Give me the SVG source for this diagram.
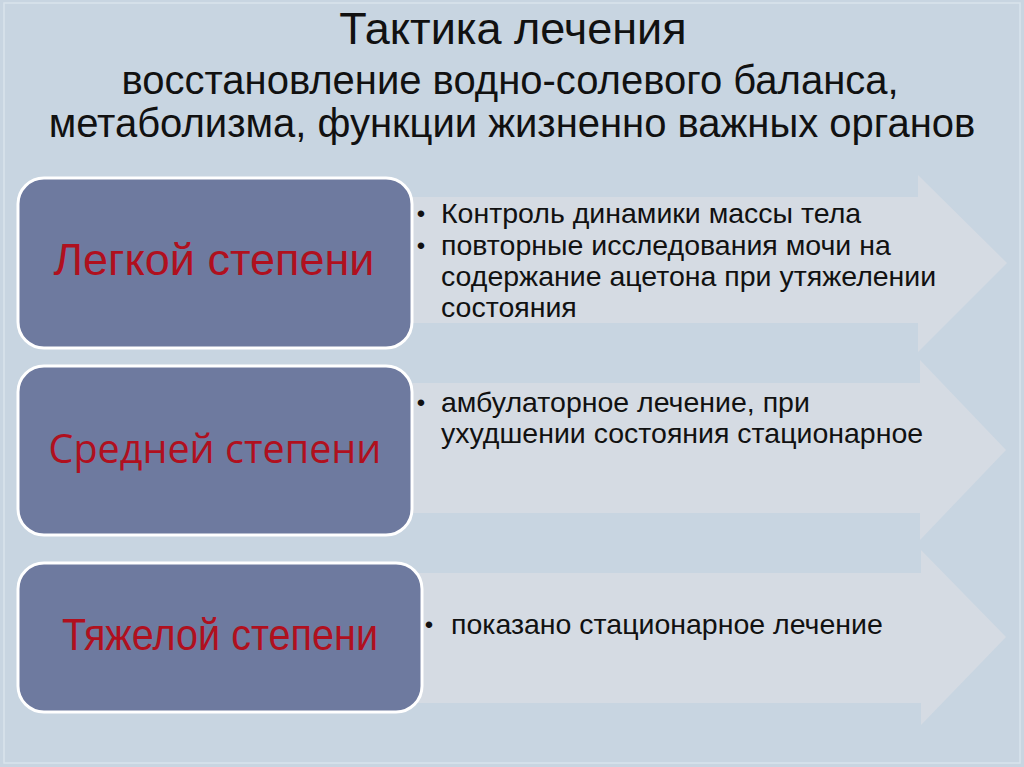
<svg xmlns="http://www.w3.org/2000/svg" width="1024" height="767" viewBox="0 0 1024 767">
<defs>
<style>
.bg{fill:#C8D5E1}
.frame{fill:none;stroke:#D9E3EC;stroke-width:1.5}
.arrow{fill:#D5DBE3}
.box{fill:#6E7A9F;stroke:#FFFFFF;stroke-width:3}
.title{font-family:"Liberation Sans",Arial,sans-serif;fill:#111111;text-anchor:middle}
.lbl{font-family:"Liberation Sans",Arial,sans-serif;fill:#B0101E;text-anchor:middle;font-size:45px}
.lbl2{font-family:"Open Sans","Noto Sans",sans-serif;fill:#B0101E;text-anchor:middle;font-size:39.5px}
.txt{font-family:"Liberation Sans",Arial,sans-serif;fill:#111111;font-size:28.5px}
.bul{font-family:"Liberation Sans",Arial,sans-serif;fill:#111111;font-size:24px;text-anchor:middle}
</style>
</defs>
<rect class="bg" x="0" y="0" width="1024" height="767"/>
<rect class="frame" x="4" y="3" width="1016" height="760"/>
<g id="title">
<text class="title" x="513" y="44" font-size="45">Тактика лечения</text>
<text class="title" x="510" y="94" font-size="40">восстановление водно-солевого баланса,</text>
<text class="title" x="512" y="137" font-size="40">метаболизма, функции жизненно важных органов</text>
</g>
<g id="connectors">
<polygon class="arrow" points="300,197 918,197 918,175 1007,263 918,352 918,323 300,323"/>
<polygon class="arrow" points="300,383 920,383 920,360 1006,450 920,540 920,513 300,513"/>
<polygon class="arrow" points="300,573 921,573 921,550 1006,637 921,725 921,703 300,703"/>
</g>
<g id="node-light">
<rect class="box" x="18" y="178" width="394" height="170" rx="26"/>
<text class="lbl" x="214" y="275">Легкой степени</text>
</g>
<g id="text-light">
<text class="bul" x="421" y="222">•</text>
<text class="txt" x="441" y="223">Контроль динамики массы тела</text>
<text class="bul" x="421" y="254">•</text>
<text class="txt" x="441" y="255">повторные исследования мочи на</text>
<text class="txt" x="441" y="286">содержание ацетона при утяжелении</text>
<text class="txt" x="441" y="317">состояния</text>
</g>
<g id="node-medium">
<rect class="box" x="18" y="366" width="394" height="169" rx="26"/>
<text class="lbl2" x="215" y="463">Средней степени</text>
</g>
<g id="text-medium">
<text class="bul" x="421" y="411">•</text>
<text class="txt" x="441" y="412">амбулаторное лечение, при</text>
<text class="txt" x="441" y="443">ухудшении состояния стационарное</text>
</g>
<g id="node-severe">
<rect class="box" x="18" y="563" width="404" height="149" rx="26"/>
<text class="lbl" x="220" y="650" font-size="40" textLength="316" lengthAdjust="spacingAndGlyphs">Тяжелой степени</text>
</g>
<g id="text-severe">
<text class="bul" x="429" y="633">•</text>
<text class="txt" x="451" y="634">показано стационарное лечение</text>
</g>
</svg>
